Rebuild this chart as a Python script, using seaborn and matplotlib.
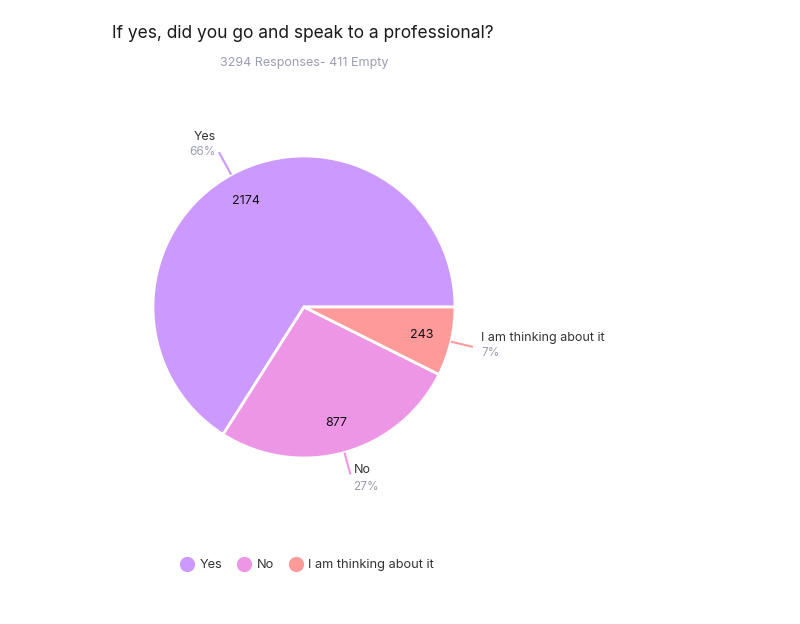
import numpy as np
import matplotlib
matplotlib.use("Agg")
import matplotlib.pyplot as plt
from matplotlib.lines import Line2D
import seaborn as sns

# Survey answers
categories = ["Yes", "No", "I am thinking about it"]
counts = [2174, 877, 243]
percent_labels = ["66%", "27%", "7%"]
title = "If yes, did you go and speak to a professional?"
subtitle = "3294 Responses- 411 Empty"

sns.set_theme(style="white")
plt.rcParams["font.family"] = ["Inter", "DejaVu Sans"]

colors = sns.color_palette(["#cc99ff", "#ee96e6", "#ff9a9a"])
grey_text = "#9c9cb4"
dark_text = "#333333"

W, H = 800, 624
fig = plt.figure(figsize=(W / 100, H / 100), dpi=100)
ax = fig.add_axes([0, 0, 1, 1])
ax.set_xlim(0, W)
ax.set_ylim(0, H)
ax.set_aspect("equal")
ax.axis("off")

cx, cy, r = 304, H - 307, 151

wedges, _, autotexts = ax.pie(
    counts, colors=colors, center=(cx, cy), radius=r, startangle=0,
    counterclock=True, autopct=lambda p: "", pctdistance=0.8,
    wedgeprops=dict(edgecolor="white", linewidth=2), frame=True,
)
ax.set_xlim(0, W)
ax.set_ylim(0, H)
ax.axis("off")

for w, n, t, cat, pct, col in zip(wedges, counts, autotexts, categories,
                                  percent_labels, colors):
    t.set_text(str(n))
    t.set_fontsize(9)
    t.set_color("#111111")
    mid = np.deg2rad((w.theta1 + w.theta2) / 2)
    c, s = np.cos(mid), np.sin(mid)
    x0, y0 = cx + r * c, cy + r * s
    k = 1.17 if s > 0.5 else 1.15
    x1, y1 = cx + k * r * c, cy + k * r * s
    ax.plot([x0, x1], [y0, y1], color=col, lw=1.5, solid_capstyle="butt")
    if c < 0:
        ha, tx = "right", x1 - 3
    else:
        ha, tx = "left", x1 + (3 if s < -0.8 else 8)
    if s > 0.5:
        ny, py = y1 + 15, y1
    elif s < -0.8:
        ny, py = y1 + 4, y1 - 13
    else:
        ny, py = y1 + 9, y1 - 6
    ax.text(tx, ny, cat, ha=ha, va="center", fontsize=9, color=dark_text)
    ax.text(tx, py, pct, ha=ha, va="center", fontsize=8.5, color=grey_text)

ax.text(303, H - 33, title, ha="center", va="center", fontsize=12.5,
        color="#1a1a1a")
ax.text(304, H - 63, subtitle, ha="center", va="center", fontsize=9,
        color=grey_text)

handles = [Line2D([], [], marker="o", linestyle="none", markersize=10,
                  markerfacecolor=col, markeredgecolor=col)
           for col in colors]
ax.legend(handles, categories, loc="center", ncol=3, frameon=False,
          bbox_to_anchor=(304 / W, 1 - 565 / H), bbox_transform=fig.transFigure,
          handletextpad=0.0, columnspacing=0.7, fontsize=9.2,
          labelcolor=dark_text)

fig.savefig("out.png", dpi=100, facecolor="white")
